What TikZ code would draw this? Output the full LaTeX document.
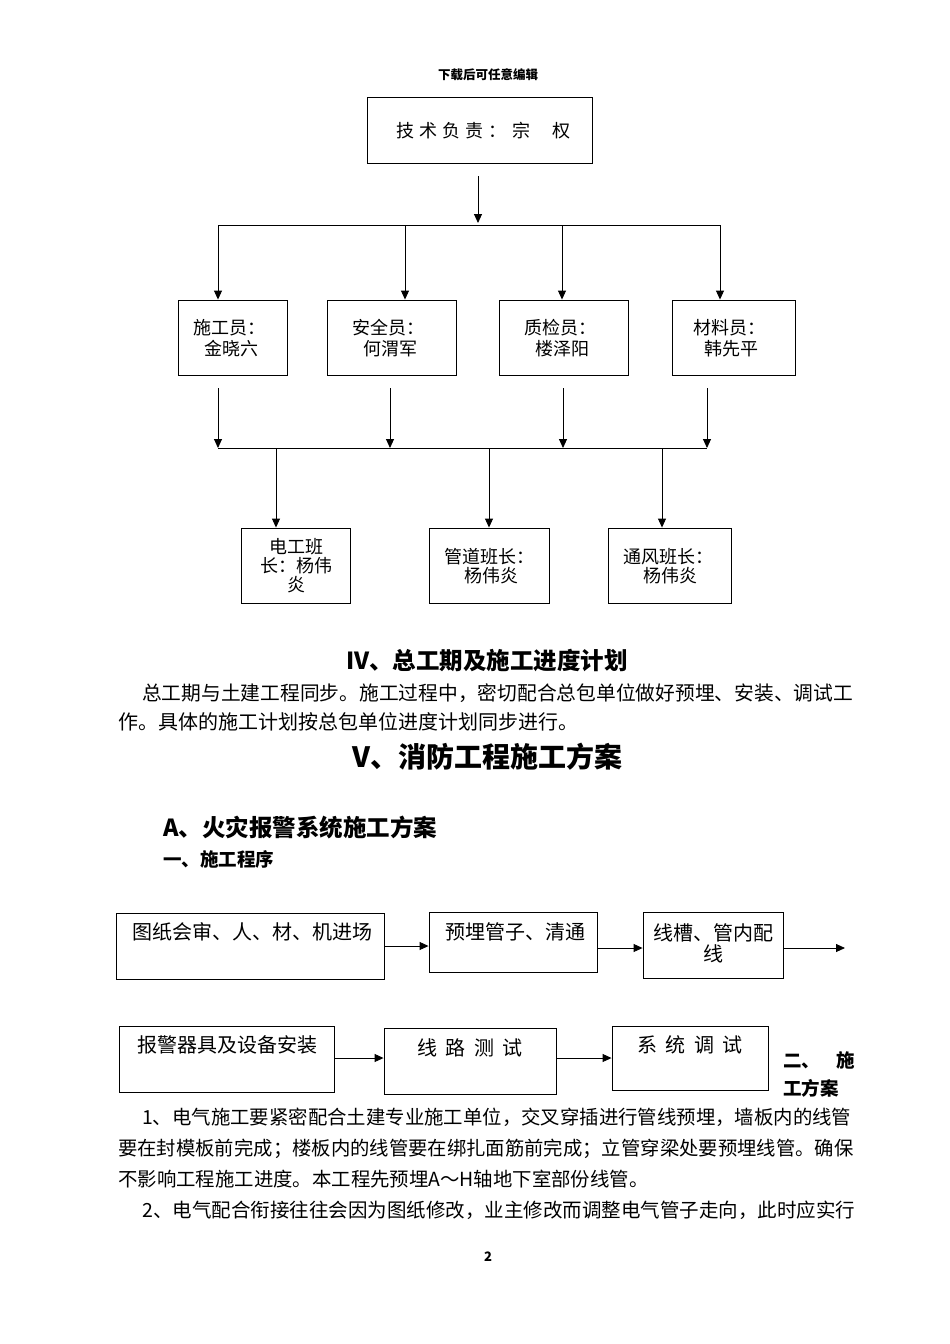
\documentclass[tikz,border=0pt]{standalone}
\usepackage{fontspec}
\setmainfont{Noto Sans CJK SC}
\usetikzlibrary{arrows.meta}
\newcommand{\fs}[1]{\fontsize{#1}{#1}\selectfont}
\tikzset{
  box/.style={draw, line width=0.9pt, inner sep=0pt},
  arr/.style={-{Triangle[length=9pt,width=8pt]}, line width=0.9pt},
  ln/.style={line width=0.9pt},
  txt/.style={inner sep=0pt, font=\fs{18}},
  body/.style={inner sep=0pt, anchor=west, font=\fs{19.4}},
  flowtxt/.style={inner sep=0pt, font=\fs{20}}
}
\begin{document}
\begin{tikzpicture}[x=1pt,y=-1pt]
\useasboundingbox (0,0) rectangle (950,1344);
\fill[white] (0,0) rectangle (950,1344);

% header
\node[inner sep=0pt, font=\fs{12.5}\bfseries] (hdr) at (488,75) {下载后可任意编辑};

% ---------- org chart ----------
\node[box, minimum width=225pt, minimum height=66pt] (top) at (479.5,130) {};
\node[txt, anchor=west] (toptxt) at (396,131) {\hbox to 134pt{技\hfil 术\hfil 负\hfil 责\hfil ：\hfil 宗}};
\node[txt, anchor=west] (toptxt2) at (552,131) {权};

\coordinate (a0) at (478,176);
\coordinate (a1) at (478,223);
\draw[arr] (a0) -- (a1);
\coordinate (hl) at (218,225);
\coordinate (hr) at (720,225);
\draw[ln] (hl) -- (hr);

\node[box, minimum width=109pt, minimum height=75pt] (b1) at (232.5,337.5) {};
\node[box, minimum width=129pt, minimum height=75pt] (b2) at (391.5,337.5) {};
\node[box, minimum width=129pt, minimum height=75pt] (b3) at (563.5,337.5) {};
\node[box, minimum width=123pt, minimum height=75pt] (b4) at (733.5,337.5) {};

\node[txt, align=center] (b1t) at (229,338) {施工员：\\[3pt]\ 金晓六};
\node[txt, align=center] (b2t) at (388,338) {安全员：\\[3pt]\ 何渭军};
\node[txt, align=center] (b3t) at (560,338) {质检员：\\[3pt]\ 楼泽阳};
\node[txt, align=center] (b4t) at (729,338) {材料员：\\[3pt]\ 韩先平};

\coordinate (t1) at (218,225); \coordinate (t2) at (405,225);
\coordinate (t3) at (562,225); \coordinate (t4) at (720,225);
\draw[arr] (t1) -- (t1 |- b1.north);
\draw[arr] (t2) -- (t2 |- b2.north);
\draw[arr] (t3) -- (t3 |- b3.north);
\draw[arr] (t4) -- (t4 |- b4.north);

\coordinate (u1) at (218,388); \coordinate (u2) at (390,388);
\coordinate (u3) at (563,388); \coordinate (u4) at (707,388);
\coordinate (ml) at (218,448); \coordinate (mr) at (707,448);
\draw[arr] (u1) -- (u1 |- ml);
\draw[arr] (u2) -- (u2 |- ml);
\draw[arr] (u3) -- (u3 |- ml);
\draw[arr] (u4) -- (u4 |- ml);
\draw[ln] (ml) -- (mr);

\node[box, minimum width=109pt, minimum height=75pt] (c1) at (295.5,565.5) {};
\node[box, minimum width=120pt, minimum height=75pt] (c2) at (489,565.5) {};
\node[box, minimum width=123pt, minimum height=75pt] (c3) at (669.5,565.5) {};

\coordinate (v1) at (276,448); \coordinate (v2) at (489,448); \coordinate (v3) at (662,448);
\draw[arr] (v1) -- (v1 |- c1.north);
\draw[arr] (v2) -- (v2 |- c2.north);
\draw[arr] (v3) -- (v3 |- c3.north);

\node[txt, align=center] (c1t) at (296,566) {电工班\\[1pt]长：杨伟\\[1pt]炎};
\node[txt, align=center] (c2t) at (489,566) {管道班长：\\[1pt]\ 杨伟炎};
\node[txt, align=center] (c3t) at (668,566) {通风班长：\\[1pt]\ 杨伟炎};

% ---------- text section IV ----------
\node[inner sep=0pt, font=\fs{23.5}\bfseries] (h4) at (487,661) {IV、总工期及施工进度计划};
\node[body, font=\fs{19.75}] (p1a) at (142,693) {总工期与土建工程同步。施工过程中，密切配合总包单位做好预埋、安装、调试工};
\node[body, font=\fs{20}] (p1b) at (118,722) {作。具体的施工计划按总包单位进度计划同步进行。};

\node[inner sep=0pt, font=\fs{28}\bfseries] (h5) at (487,757) {V、消防工程施工方案};
\node[inner sep=0pt, anchor=west, font=\fs{23.5}\bfseries] (hA) at (163,827) {A、火灾报警系统施工方案};
\node[inner sep=0pt, anchor=west, font=\fs{18.5}\bfseries] (h1) at (163,859) {一、施工程序};

% ---------- flow row 1 ----------
\node[box, minimum width=268pt, minimum height=66pt] (f1) at (250,946) {};
\node[box, minimum width=168pt, minimum height=60pt] (f2) at (513,942) {};
\node[box, minimum width=140pt, minimum height=66pt] (f3) at (713,945) {};
\node[flowtxt] (f1t) at (252,932) {图纸会审、人、材、机进场};
\node[flowtxt] (f2t) at (515,932) {预埋管子、清通};
\node[flowtxt, align=center] (f3t) at (713,943) {线槽、管内配\\[1pt]线};
\coordinate (fe) at (845,948);
\draw[arr] (f1.east |- 0,946) -- (f2.west |- 0,946);
\draw[arr] (f2.east |- 0,948) -- (f3.west |- 0,948);
\draw[arr] (f3.east |- fe) -- (fe);

% ---------- flow row 2 ----------
\node[box, minimum width=215pt, minimum height=66pt] (g1) at (226.5,1059) {};
\node[box, minimum width=172pt, minimum height=66pt] (g2) at (470,1061) {};
\node[box, minimum width=156pt, minimum height=64pt] (g3) at (690,1058) {};
\node[flowtxt] (g1t) at (227,1045) {报警器具及设备安装};
\node[flowtxt] (g2t) at (470,1048) {\hbox to 105pt{线\hfil 路\hfil 测\hfil 试}};
\node[flowtxt] (g3t) at (690,1045) {\hbox to 105pt{系\hfil 统\hfil 调\hfil 试}};
\draw[arr] (g1.east |- 0,1058) -- (g2.west |- 0,1058);
\draw[arr] (g2.east |- 0,1058) -- (g3.west |- 0,1058);

\node[inner sep=0pt, anchor=west, font=\fs{18.5}\bfseries] (h2a) at (783,1060) {\hbox to 72pt{二、\hfil 施}};
\node[inner sep=0pt, anchor=west, font=\fs{18.5}\bfseries] (h2b) at (783,1088) {工方案};

% ---------- paragraphs ----------
\node[body] (q1) at (142,1117) {1、电气施工要紧密配合土建专业施工单位，交叉穿插进行管线预埋，墙板内的线管};
\node[body, font=\fs{19.35}] (q2) at (118,1149) {要在封模板前完成；楼板内的线管要在绑扎面筋前完成；立管穿梁处要预埋线管。确保};
\node[body] (q3) at (118,1179) {不影响工程施工进度。本工程先预埋A～H轴地下室部份线管。};
\node[body, font=\fs{19.5}] (q4) at (142,1210) {2、电气配合衔接往往会因为图纸修改，业主修改而调整电气管子走向，此时应实行};

\node[inner sep=0pt, font=\fs{13}\bfseries] (pg) at (488,1257) {2};
\end{tikzpicture}
\end{document}
